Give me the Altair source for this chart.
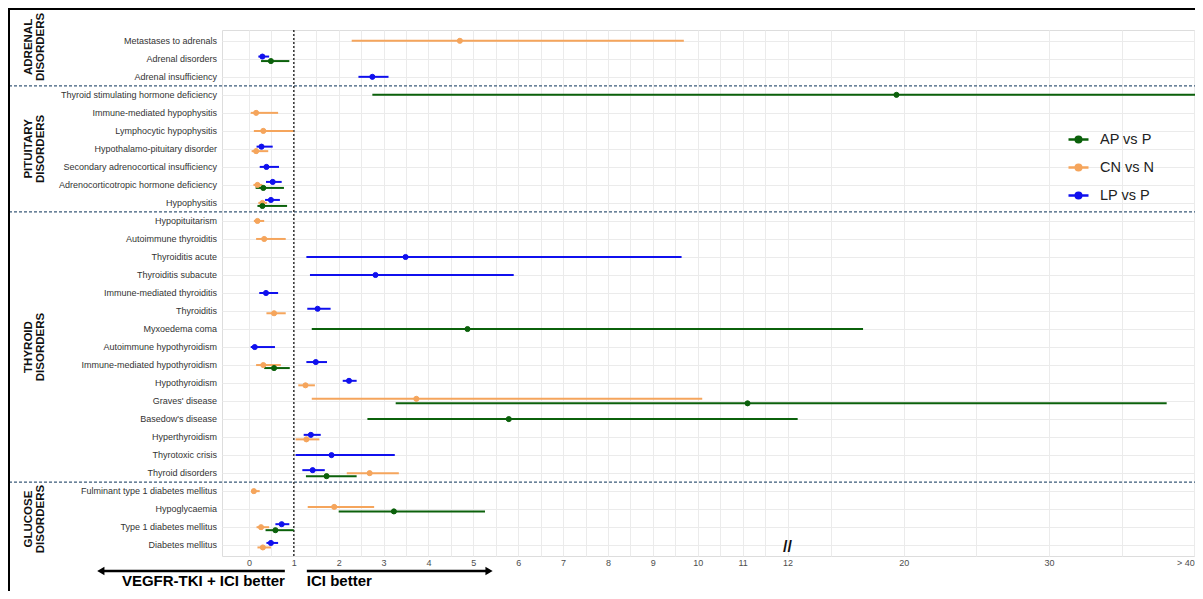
import altair as alt
import pandas as pd

# ---------------- data ----------------
categories = [
    "Metastases to adrenals", "Adrenal disorders", "Adrenal insufficiency",
    "Thyroid stimulating hormone deficiency", "Immune-mediated hypophysitis",
    "Lymphocytic hypophysitis", "Hypothalamo-pituitary disorder",
    "Secondary adrenocortical insufficiency", "Adrenocorticotropic hormone deficiency",
    "Hypophysitis",
    "Hypopituitarism", "Autoimmune thyroiditis", "Thyroiditis acute",
    "Thyroiditis subacute", "Immune-mediated thyroiditis", "Thyroiditis",
    "Myxoedema coma", "Autoimmune hypothyroidism", "Immune-mediated hypothyroidism",
    "Hypothyroidism", "Graves' disease", "Basedow's disease", "Hyperthyroidism",
    "Thyrotoxic crisis", "Thyroid disorders",
    "Fulminant type 1 diabetes mellitus", "Hypoglycaemia", "Type 1 diabetes mellitus",
    "Diabetes mellitus",
]
group_names = ["ADRENAL", "PITUITARY", "THYROID", "GLUCOSE"]
group_word = "DISORDERS"
group_sizes = [3, 7, 15, 4]

series_names = ["AP vs P", "CN vs N", "LP vs P"]
series_colors = ["#0b610b", "#f5a55c", "#1010ee"]
dodge_order = ["LP vs P", "CN vs N", "AP vs P"]

ap_cats = ["Adrenal disorders", "Thyroid stimulating hormone deficiency",
           "Adrenocorticotropic hormone deficiency", "Hypophysitis", "Myxoedema coma",
           "Immune-mediated hypothyroidism", "Graves' disease", "Basedow's disease",
           "Thyroid disorders", "Hypoglycaemia", "Type 1 diabetes mellitus"]
ap_est = [0.49, 19.5, 0.32, 0.30, 4.87, 0.56, 11.11, 5.79, 1.73, 3.23, 0.59]
ap_lo = [0.27, 2.75, 0.15, 0.19, 1.40, 0.34, 3.27, 2.64, 1.27, 2.00, 0.37]
ap_hi = [0.90, 45.0, 0.78, 0.85, 17.2, 0.91, 38.1, 12.7, 2.40, 5.26, 1.00]

cn_cats = ["Metastases to adrenals", "Immune-mediated hypophysitis",
           "Lymphocytic hypophysitis", "Hypothalamo-pituitary disorder",
           "Adrenocorticotropic hormone deficiency", "Hypophysitis", "Hypopituitarism",
           "Autoimmune thyroiditis", "Thyroiditis", "Immune-mediated hypothyroidism",
           "Hypothyroidism", "Graves' disease", "Hyperthyroidism", "Thyroid disorders",
           "Fulminant type 1 diabetes mellitus", "Hypoglycaemia",
           "Type 1 diabetes mellitus", "Diabetes mellitus"]
cn_est = [4.70, 0.16, 0.32, 0.16, 0.19, 0.30, 0.19, 0.34, 0.56, 0.32, 1.26, 3.73,
          1.28, 2.69, 0.11, 1.90, 0.27, 0.31]
cn_lo = [2.29, 0.04, 0.11, 0.06, 0.10, 0.21, 0.11, 0.16, 0.39, 0.16, 1.10, 1.40,
         1.04, 2.18, 0.06, 1.31, 0.17, 0.19]
cn_hi = [9.69, 0.65, 0.99, 0.43, 0.30, 0.40, 0.34, 0.82, 0.82, 0.71, 1.47, 10.10,
         1.57, 3.34, 0.24, 2.79, 0.45, 0.49]

lp_cats = ["Adrenal disorders", "Adrenal insufficiency", "Hypothalamo-pituitary disorder",
           "Secondary adrenocortical insufficiency",
           "Adrenocorticotropic hormone deficiency", "Hypophysitis", "Thyroiditis acute",
           "Thyroiditis subacute", "Immune-mediated thyroiditis", "Thyroiditis",
           "Autoimmune hypothyroidism", "Immune-mediated hypothyroidism", "Hypothyroidism",
           "Hyperthyroidism", "Thyrotoxic crisis", "Thyroid disorders",
           "Type 1 diabetes mellitus", "Diabetes mellitus"]
lp_est = [0.30, 2.75, 0.28, 0.39, 0.53, 0.49, 3.49, 2.82, 0.38, 1.53, 0.13, 1.49,
          2.23, 1.38, 1.84, 1.42, 0.73, 0.49]
lp_lo = [0.21, 2.44, 0.17, 0.24, 0.38, 0.36, 1.28, 1.36, 0.23, 1.30, 0.04, 1.28,
         2.09, 1.22, 1.04, 1.19, 0.59, 0.39]
lp_hi = [0.45, 3.11, 0.53, 0.67, 0.73, 0.69, 9.64, 5.90, 0.65, 1.82, 0.58, 1.74,
         2.40, 1.60, 3.25, 1.69, 0.90, 0.65]

x_ticks = list(range(0, 13)) + [20, 30, 40]
x_grid = [i / 2 for i in range(0, 25)] + [15, 20, 25, 30, 35, 40]
x_break = [12]
ref_value = [1]
arrow_left = [-3.30, 0.80]
arrow_right = [1.29, 5.35]
left_text = "VEGFR-TKI + ICI better"
right_text = "ICI better"

# ---------------- layout ----------------
PLOT_W, PLOT_H = 973, 526
PAD = {"left": 214, "top": 22, "right": 0, "bottom": 35}
Y_DOM = [-0.6, 28.6]
row_px = PLOT_H / (Y_DOM[1] - Y_DOM[0])

# ---------------- tables ----------------
recs = []
for name, cats, est, lo, hi in [("AP vs P", ap_cats, ap_est, ap_lo, ap_hi),
                                ("CN vs N", cn_cats, cn_est, cn_lo, cn_hi),
                                ("LP vs P", lp_cats, lp_est, lp_lo, lp_hi)]:
    for c, e, l, h in zip(cats, est, lo, hi):
        recs.append({"series": name, "cat": c, "est": e, "lo": l, "hi": h,
                     "idx": categories.index(c), "ord": dodge_order.index(name)})
df = pd.DataFrame(recs).sort_values(["idx", "ord"]).reset_index(drop=True)
df["k"] = df.groupby("idx").cumcount()
df["n"] = df.groupby("idx")["idx"].transform("size")
dodge_w = 0.5
df["y"] = df["idx"] - dodge_w / 2 + dodge_w / df["n"] * (df["k"] + 0.5)

label_df = pd.DataFrame({"cat": categories, "idx": list(range(len(categories)))})

bounds = [0]
for s in group_sizes:
    bounds.append(bounds[-1] + s)
sep_pos = [b - 0.5 for b in bounds[1:-1]]
sep_df = pd.DataFrame({"pos": sep_pos})
top_bound = Y_DOM[0] - PAD["top"] / row_px
edges = [top_bound] + sep_pos + [Y_DOM[1]]
grp_df = pd.DataFrame({
    "l1": group_names,
    "l2": [group_word] * len(group_names),
    "c": [(edges[i] + edges[i + 1]) / 2 for i in range(len(group_names))],
})

ref_df = pd.DataFrame({"v": ref_value})
brk_df = pd.DataFrame({"v": x_break})
arrow_df = pd.DataFrame({"a": [arrow_left[0], arrow_right[0]],
                         "b": [arrow_left[1], arrow_right[1]]})
head_df = pd.DataFrame({"v": [arrow_left[0], arrow_right[1]],
                        "shape": ["triangle-left", "triangle-right"]})
ltxt_df = pd.DataFrame({"v": [arrow_left[1]], "t": [left_text]})
rtxt_df = pd.DataFrame({"v": [arrow_right[0]], "t": [right_text]})
one_df = pd.DataFrame({"k": [0]})

# ---------------- scales / axes ----------------
x_scale = alt.Scale(domain=[-0.6, 12, 40.05], range=[0, 565.5, PLOT_W],
                    nice=False, zero=False)
y_scale = alt.Scale(domain=Y_DOM, reverse=True, nice=False, zero=False)
tick_test = " || ".join(f"datum.value == {t}" for t in x_ticks)
x_axis = alt.Axis(
    values=x_grid, title=None, ticks=False, domain=False, grid=True,
    gridColor="#ebebeb", gridWidth=1, labelFontSize=9, labelColor="#4d4d4d",
    labelPadding=2, labelOverlap=False, labelBaseline="top",
    labelExpr=f"datum.value >= 40 ? '> 40' : (({tick_test}) ? format(datum.value, 'd') : '')",
    labelAlign={"condition": {"test": "datum.value >= 40", "value": "right"},
                "value": "center"},
)
y_axis = alt.Axis(values=list(range(len(categories))), labels=False, ticks=False,
                  domain=False, grid=True, gridColor="#ebebeb", title=None)
color_scale = alt.Scale(domain=series_names, range=series_colors)

legend_path = ("M-1,0L1,0M-0.28,0A0.28,0.28,0,1,1,0.28,0"
               "A0.28,0.28,0,1,1,-0.28,0Z")
legend = alt.Legend(orient="none", legendX=845, legendY=98,
                    symbolType=legend_path, symbolSize=400, symbolStrokeWidth=2.5,
                    symbolOpacity=1, labelFontSize=14.5, labelColor="#222222",
                    labelOffset=10, rowPadding=8, padding=0)


def X(field):
    return alt.X(field, type="quantitative", scale=x_scale, axis=x_axis)


def Y(field):
    return alt.Y(field, type="quantitative", scale=y_scale, axis=y_axis)


# ---------------- layers ----------------
labels = alt.Chart(label_df).mark_text(
    align="right", baseline="middle", fontSize=9, color="#333333", dx=-5
).encode(x=alt.value(0), y=Y("idx"), text="cat:N")

seps = alt.Chart(sep_df).mark_rule(
    color="#3b5b7a", strokeDash=[3, 2], strokeWidth=1.2
).encode(y=Y("pos"), x=alt.value(-213), x2=alt.value(PLOT_W))

ref = alt.Chart(ref_df).mark_rule(
    color="#333333", strokeDash=[2, 2], strokeWidth=1.5
).encode(x=X("v"), y=alt.value(0), y2=alt.value(PLOT_H))

ci = alt.Chart(df).mark_rule(strokeWidth=2).encode(
    x=X("lo"), x2="hi:Q", y=Y("y"),
    stroke=alt.Stroke("series:N", scale=color_scale, legend=legend, title=""),
)

pts = alt.Chart(df).mark_point(filled=True, size=26, strokeWidth=1, opacity=1).encode(
    x=X("est"), y=Y("y"),
    fill=alt.Fill("series:N", scale=color_scale, legend=legend, title=""),
    stroke=alt.Stroke("series:N", scale=color_scale, legend=legend, title=""),
)

grp1 = alt.Chart(grp_df).mark_text(
    angle=270, align="center", baseline="middle", fontSize=11.5, fontWeight="bold",
    color="#111111"
).encode(x=alt.value(-193), y=Y("c"), text="l1:N")
grp2 = alt.Chart(grp_df).mark_text(
    angle=270, align="center", baseline="middle", fontSize=11.5, fontWeight="bold",
    color="#111111"
).encode(x=alt.value(-181), y=Y("c"), text="l2:N")

brk = alt.Chart(brk_df).mark_text(
    text="//", fontSize=16, fontWeight="bold", color="#111111"
).encode(x=X("v"), y=alt.value(PLOT_H - 9))

arrows = alt.Chart(arrow_df).mark_rule(color="black", strokeWidth=2.5).encode(
    x=X("a"), x2="b:Q", y=alt.value(541)
)
heads = alt.Chart(head_df).mark_point(filled=True, size=70, color="black", opacity=1).encode(
    x=X("v"), y=alt.value(541), shape=alt.Shape("shape:N", scale=None)
)
ltxt = alt.Chart(ltxt_df).mark_text(
    align="right", baseline="alphabetic", fontSize=15, fontWeight="bold", color="black"
).encode(x=X("v"), y=alt.value(556), text="t:N")
rtxt = alt.Chart(rtxt_df).mark_text(
    align="left", baseline="alphabetic", fontSize=15, fontWeight="bold", color="black"
).encode(x=X("v"), y=alt.value(556), text="t:N")

border_top = alt.Chart(one_df).mark_rule(color="black", strokeWidth=2).encode(
    x=alt.value(-PAD["left"]), x2=alt.value(PLOT_W), y=alt.value(-PAD["top"] + 1)
)
border_left = alt.Chart(one_df).mark_rule(color="black", strokeWidth=2).encode(
    x=alt.value(-PAD["left"] + 1), y=alt.value(-PAD["top"]),
    y2=alt.value(PLOT_H + PAD["bottom"])
)

chart = alt.layer(
    seps, ref, ci, pts, labels, grp1, grp2, brk, arrows, heads, ltxt, rtxt,
    border_top, border_left,
).properties(
    width=PLOT_W, height=PLOT_H, padding=PAD,
    autosize=alt.AutoSizeParams(type="none"), background="white",
).configure_view(strokeWidth=0).configure(font="Liberation Sans")

chart.save("out.html", embed_options={"renderer": "svg", "actions": False})
